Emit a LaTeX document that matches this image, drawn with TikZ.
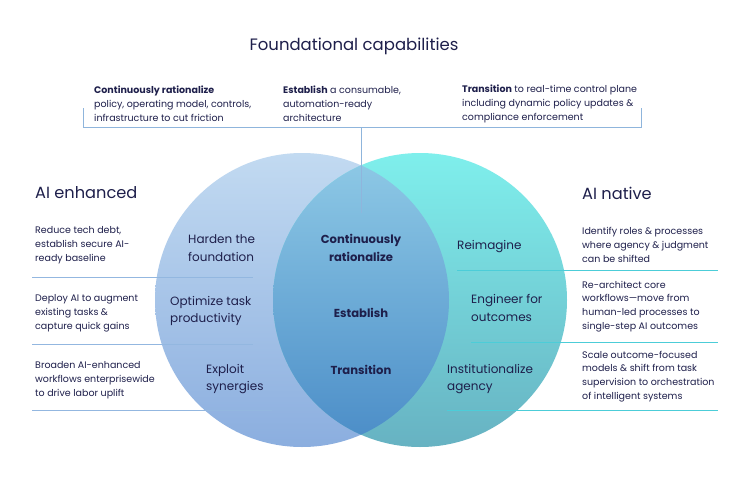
\documentclass[tikz,border=0pt]{standalone}
\usepackage{fontspec}
\setmainfont{Poppins}
\definecolor{navy}{HTML}{1E1F4B}
\definecolor{leftTop}{HTML}{C2DAF1}
\definecolor{leftBot}{HTML}{8BAEDF}
\definecolor{rightTop}{HTML}{7FEFEC}
\definecolor{rightBot}{HTML}{67B2C2}
\definecolor{lensTop}{HTML}{8FCAE6}
\definecolor{lensBot}{HTML}{4A8CC7}
\definecolor{lineBlue}{HTML}{93B7E0}
\definecolor{lineCyan}{HTML}{4CCDD8}
\definecolor{bracket}{HTML}{8FB5DC}
\tikzset{
  smalltxt/.style={text=navy, font=\fontsize{9.5}{13.8}\selectfont, align=left, inner sep=0pt, anchor=west},
  toptxt/.style={smalltxt},
  headtxt/.style={text=navy, font=\fontsize{16.2}{19}\selectfont, inner sep=0pt, anchor=west},
  circtxt/.style={text=navy, font=\fontsize{12}{17.5}\selectfont, align=left, inner sep=0pt, anchor=west},
  lenstxt/.style={text=navy, font=\fontsize{11.6}{17.5}\selectfont\bfseries, align=center, inner sep=0pt},
  sepblue/.style={draw=lineBlue, line width=0.9pt},
  sepcyan/.style={draw=lineCyan, line width=0.9pt},
  brk/.style={draw=bracket, line width=0.9pt},
}
\begin{document}
\begin{tikzpicture}[x=1pt,y=-1pt]
\useasboundingbox (0,0) rectangle (750,482);
\fill[white] (0,0) rectangle (750,482);
% circles
\shade[top color=leftTop, bottom color=leftBot] (302,300) circle[radius=147pt];
\shade[top color=rightTop, bottom color=rightBot] (420,300) circle[radius=147pt];
\begin{scope}
  \clip (302,300) circle[radius=147pt];
  \shade[top color=lensTop, bottom color=lensBot] (420,300) circle[radius=147pt];
\end{scope}
% bracket
\coordinate (bl) at (83,108);
\coordinate (blb) at (83,127);
\coordinate (br) at (641,108);
\coordinate (brb) at (641,127);
\coordinate (bm) at (361,127);
\coordinate (bmd) at (361,213);
\draw[brk] (bl) -- (blb) -- (brb) -- (br);
\draw[brk] (bm) -- (bmd);
% separators
\coordinate (l1a) at (32,277); \coordinate (l1b) at (253,277);
\coordinate (l2a) at (32,344); \coordinate (l2b) at (253,344);
\coordinate (l3a) at (32,410); \coordinate (l3b) at (272,410);
\coordinate (r1a) at (457,270); \coordinate (r1b) at (718,270);
\coordinate (r2a) at (471,342); \coordinate (r2b) at (718,342);
\coordinate (r3a) at (447,410); \coordinate (r3b) at (718,410);
\draw[sepblue] (l1a) -- (l1b);
\draw[sepblue] (l2a) -- (l2b);
\draw[sepblue] (l3a) -- (l3b);
\draw[sepcyan] (r1a) -- (r1b);
\draw[sepcyan] (r2a) -- (r2b);
\draw[sepcyan] (r3a) -- (r3b);
% title
\node[text=navy, font=\fontsize{16.5}{20}\selectfont, inner sep=0pt] (title) at (354,46) {Foundational capabilities};
% top texts
\node[toptxt] (t1) at (94,104) {\textbf{Continuously rationalize}\\policy, operating model, controls,\\infrastructure to cut friction};
\node[toptxt] (t2) at (283,104) {\textbf{Establish} a consumable,\\automation-ready\\architecture};
\node[toptxt] (t3) at (462,104) {\textbf{Transition} to real-time control plane\\including dynamic policy updates \&\\compliance enforcement};
% headings
\node[headtxt] (hl) at (35,193) {AI enhanced};
\node[headtxt] (hr) at (582,193) {AI native};
% left texts
\node[smalltxt] (a1) at (35,245) {Reduce tech debt,\\establish secure AI-\\ready baseline};
\node[smalltxt] (a2) at (35,313) {Deploy AI to augment\\existing tasks \&\\capture quick gains};
\node[smalltxt] (a3) at (35,380) {Broaden AI-enhanced\\workflows enterprisewide\\to drive labor uplift};
% right texts
\node[smalltxt] (b1) at (582,245) {Identify roles \& processes\\where agency \& judgment\\can be shifted};
\node[smalltxt] (b2) at (582,306.5) {Re-architect core\\workflows—move from\\human-led processes to\\single-step AI outcomes};
\node[smalltxt] (b3) at (582,376.5) {Scale outcome-focused\\models \& shift from task\\supervision to orchestration\\of intelligent systems};
% circle labels
\node[circtxt] (c1) at (188,248) {Harden the\\foundation};
\node[circtxt] (c2) at (170,311) {Optimize task\\productivity};
\node[circtxt] (c3) at (206,379) {Exploit\\synergies};
\node[lenstxt] (m1) at (361,248) {Continuously\\rationalize};
\node[lenstxt] (m2) at (361,313) {Establish};
\node[lenstxt] (m3) at (361,370) {Transition};
\node[circtxt] (d1) at (457,247) {Reimagine};
\node[circtxt] (d2) at (471,308) {Engineer for\\outcomes};
\node[circtxt] (d3) at (447,379) {Institutionalize\\agency};
\end{tikzpicture}
\end{document}
